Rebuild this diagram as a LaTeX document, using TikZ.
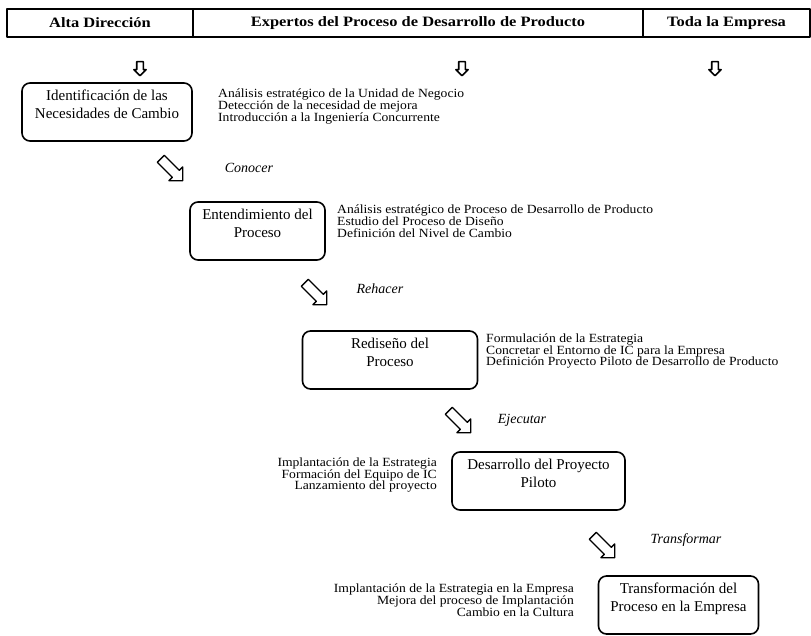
\documentclass[tikz,border=0pt]{standalone}
\usepackage{fontspec}
\setmainfont{Liberation Serif}
\newfontfamily\hdrfont[FakeStretch=1.15]{Liberation Serif}
\newfontfamily\boxfont{Liberation Serif}
\newfontfamily\descfont[FakeStretch=1.09]{Liberation Serif}
\newfontfamily\stepfont{Liberation Serif}
\usetikzlibrary{shapes.arrows}

\begin{document}
\begin{tikzpicture}[x=1pt, y=-1pt, line join=round,
    head cell/.style={draw, line width=1.4pt, minimum height=28pt, inner sep=0pt, font=\hdrfont\bfseries\fontsize{14.3}{16}\selectfont},
    main node/.style={draw, rounded corners=8pt, line width=1.6pt, align=center, inner sep=3pt, minimum height=58pt, text depth=16pt, font=\boxfont\fontsize{15}{18}\selectfont},
    desc/.style={inner sep=0pt, font=\descfont\fontsize{12.5}{11.8}\selectfont},
    step label/.style={inner sep=0pt, font=\stepfont\itshape\fontsize{14}{16}\selectfont},
    down arrow/.style={single arrow, draw, line width=1.6pt, rotate=-90, minimum height=14pt, inner xsep=0pt, inner ysep=2.5pt, single arrow head extend=2.8pt},
    diag arrow/.style={single arrow, draw, line width=1.3pt, rotate=-45, minimum height=31pt, inner xsep=0pt, inner ysep=4.3pt, single arrow head extend=4.8pt}]
    \useasboundingbox (0,0) rectangle (811,635);

    % cabecera
    \node[head cell, minimum width=186pt] at (100,23) (h1) {Alta Dirección};
    \node[head cell, minimum width=450pt] at (418,23) (h2) {Expertos del Proceso de Desarrollo de Producto};
    \node[head cell, minimum width=167pt] at (726.5,23) (h3) {Toda la Empresa};

    \node[down arrow] at (140,67) (v1) {};
    \node[down arrow] at (462,67) (v2) {};
    \node[down arrow] at (715,67) (v3) {};

    % etapas
    \node[main node, minimum width=170pt] at (107,112) (1) {Identificación de las\\Necesidades de Cambio};
    \node[main node, minimum width=135pt] at (257.5,231) (2) {Entendimiento del\\Proceso};
    \node[main node, minimum width=175pt] at (390,360) (3) {Rediseño del\\Proceso};
    \node[main node, minimum width=173pt] at (538.5,481) (4) {Desarrollo del Proyecto\\Piloto};
    \node[main node, minimum width=160pt] at (678.5,605) (5) {Transformación del\\Proceso en la Empresa};

    \node[desc, anchor=west, align=left] at (218,106.5) (d1) {Análisis estratégico de la Unidad de Negocio\\Detección de la necesidad de mejora\\Introducción a la Ingeniería Concurrente};
    \node[desc, anchor=west, align=left] at (337,221) (d2) {Análisis estratégico de Proceso de Desarrollo de Producto\\Estudio del Proceso de Diseño\\Definición del Nivel de Cambio};
    \node[desc, anchor=west, align=left] at (486,351) (d3) {Formulación de la Estrategia\\Concretar el Entorno de IC para la Empresa\\Definición Proyecto Piloto de Desarrollo de Producto};
    \node[desc, anchor=east, align=right] at (437,475) (d4) {Implantación de la Estrategia\\Formación del Equipo de IC\\Lanzamiento del proyecto};
    \node[desc, anchor=east, align=right] at (574,600) (d5) {Implantación de la Estrategia en la Empresa\\Mejora del proceso de Implantación\\Cambio en la Cultura};

    % flechas entre etapas
    \node[diag arrow] at (170,168) (a1) {};
    \node[diag arrow] at (314,292) (a2) {};
    \node[diag arrow] at (458,420) (a3) {};
    \node[diag arrow] at (602,545) (a4) {};

    \node[step label] at (249,168) (l1) {Conocer};
    \node[step label] at (380,289) (l2) {Rehacer};
    \node[step label] at (522,420) (l3) {Ejecutar};
    \node[step label] at (686,540) (l4) {Transformar};

\end{tikzpicture}
\end{document}
